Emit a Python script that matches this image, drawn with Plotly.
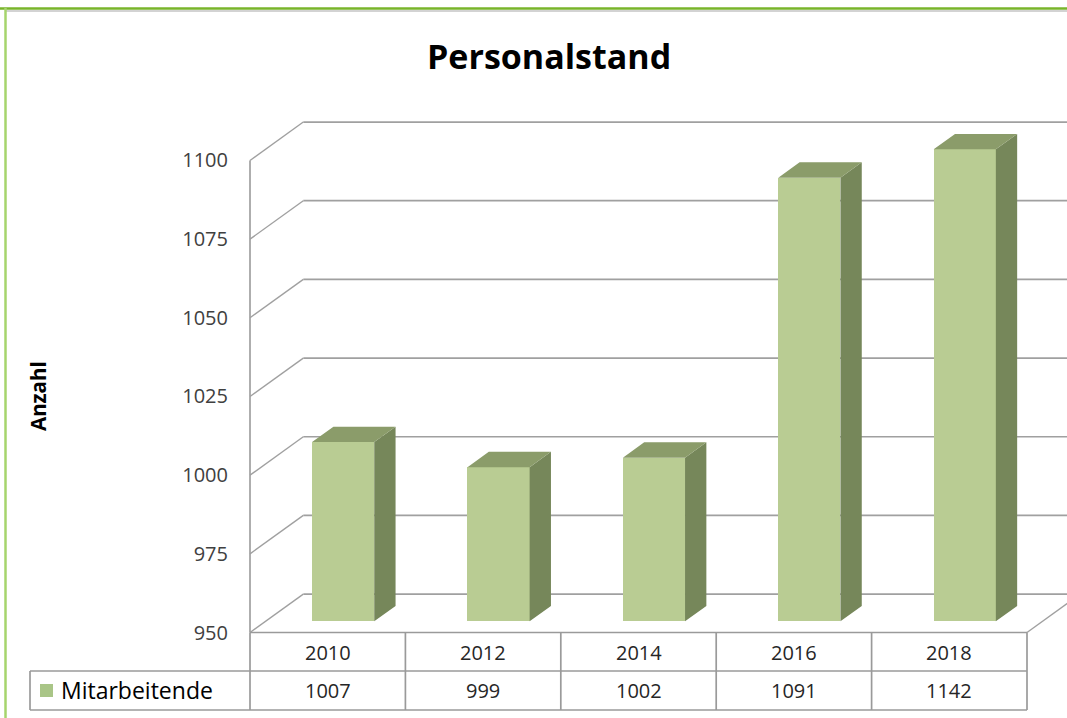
import plotly.graph_objects as go

# ---- data ----
years = ["2010", "2012", "2014", "2016", "2018"]
staff = [1007, 999, 1002, 1091, 1142]
y_ticks = [950, 975, 1000, 1025, 1050, 1075, 1100]
series_name = "Mitarbeitende"
title_text = "Personalstand"
y_title = "Anzahl"

# ---- layout geometry (pixel mapping of the pseudo-3D frame) ----
W, H = 1067, 718
slot_px = 155.4          # width of one category slot in px
x_front_px = 250         # left edge of the front plane
y_base_px = 632.5        # pixel row of the axis minimum
unit_px = 3.147          # px per value unit
ymin, ymax = y_ticks[0], y_ticks[-1]

ddx = 53.3 / slot_px     # depth offset in x units
ddy = 38.4 / unit_px     # depth offset in y units
f_front = 0.29           # depth of bar front face
f_depth = 0.40           # bar depth
bar_w = 0.40

x_lo = -0.5 - x_front_px / slot_px
x_hi = -0.5 + (W - x_front_px) / slot_px
y_lo = ymin - (H - y_base_px) / unit_px
y_hi = ymin + y_base_px / unit_px

def py(px):
    return 1 - px / H

def px_x(px):
    return px / W

FRONT = "#b9cc93"
SIDE = "#76875a"
TOP = "#8b9c6a"
GRID = "#a0a0a0"
FONT = "'Open Sans', Lato, sans-serif"

n = len(years)
xs = list(range(n))
clipped = [min(v, ymax) for v in staff]

fig = go.Figure()

# front faces
fig.add_trace(go.Bar(
    x=[i + f_front * ddx for i in xs],
    y=[c - ymin for c in clipped],
    base=ymin + f_front * ddy,
    width=bar_w,
    marker=dict(color=FRONT, line=dict(width=0)),
    showlegend=False, hoverinfo="skip",
))

# side faces and top faces
sx, sy, tx, ty = [], [], [], []
f1, f2 = f_front, f_front + f_depth
for i, c in zip(xs, clipped):
    xl = i - bar_w / 2
    xr = i + bar_w / 2
    sx += [xr + f1 * ddx, xr + f2 * ddx, xr + f2 * ddx, xr + f1 * ddx, xr + f1 * ddx, None]
    sy += [ymin + f1 * ddy, ymin + f2 * ddy, c + f2 * ddy, c + f1 * ddy, ymin + f1 * ddy, None]
    tx += [xl + f1 * ddx, xl + f2 * ddx, xr + f2 * ddx, xr + f1 * ddx, xl + f1 * ddx, None]
    ty += [c + f1 * ddy, c + f2 * ddy, c + f2 * ddy, c + f1 * ddy, c + f1 * ddy, None]

fig.add_trace(go.Scatter(x=sx, y=sy, mode="lines", fill="toself", fillcolor=SIDE,
                         line=dict(width=0, color=SIDE), showlegend=False, hoverinfo="skip"))
fig.add_trace(go.Scatter(x=tx, y=ty, mode="lines", fill="toself", fillcolor=TOP,
                         line=dict(width=0, color=TOP), showlegend=False, hoverinfo="skip"))

shapes = []
# back wall gridlines + left wall diagonals
for v in y_ticks:
    shapes.append(dict(type="line", xref="x", yref="y", x0=-0.5 + ddx, y0=v + ddy,
                       x1=n - 0.5 + ddx + 1, y1=v + ddy, line=dict(color=GRID, width=1.7), layer="below"))
    shapes.append(dict(type="line", xref="x", yref="y", x0=-0.5, y0=v, x1=-0.5 + ddx, y1=v + ddy,
                       line=dict(color=GRID, width=1.4), layer="below"))
# front vertical axis line
shapes.append(dict(type="line", xref="x", yref="y", x0=-0.5, y0=ymin, x1=-0.5, y1=ymax,
                   line=dict(color=GRID, width=1.7), layer="below"))
# right floor diagonal
shapes.append(dict(type="line", xref="x", yref="y", x0=n - 0.5, y0=ymin, x1=n - 0.5 + ddx, y1=ymin + ddy,
                   line=dict(color=GRID, width=1.4), layer="below"))

# data table
row_top, row_mid, row_bot = 632.5, 671, 710
TL = "#9a9a9a"
shapes.append(dict(type="line", xref="x", yref="paper", x0=-0.5, x1=n - 0.5, y0=py(row_top), y1=py(row_top),
                   line=dict(color=TL, width=1.7)))
for r in (row_mid, row_bot):
    shapes.append(dict(type="line", xref="paper", yref="paper", x0=px_x(30), x1=px_x(x_front_px + n * slot_px),
                       y0=py(r), y1=py(r), line=dict(color=TL, width=1.7)))
for k in range(n + 1):
    shapes.append(dict(type="line", xref="x", yref="paper", x0=k - 0.5, x1=k - 0.5,
                       y0=py(row_top), y1=py(row_bot), line=dict(color=TL, width=1.7)))
shapes.append(dict(type="line", xref="paper", yref="paper", x0=px_x(30), x1=px_x(30),
                   y0=py(row_mid), y1=py(row_bot), line=dict(color=TL, width=1.7)))
# legend key
shapes.append(dict(type="rect", xref="paper", yref="paper", x0=px_x(40), x1=px_x(53),
                   y0=py(697), y1=py(684), fillcolor="#a9c587", line=dict(width=0)))

# page frame (green border)
shapes.append(dict(type="line", xref="paper", yref="paper", x0=0, x1=1, y0=py(8.5), y1=py(8.5),
                   line=dict(color="#78b42a", width=2.5)))
shapes.append(dict(type="line", xref="paper", yref="paper", x0=px_x(5.5), x1=1, y0=py(11), y1=py(11),
                   line=dict(color="#c4c4c4", width=1.5)))
shapes.append(dict(type="line", xref="paper", yref="paper", x0=px_x(5.5), x1=px_x(5.5), y0=py(8), y1=0,
                   line=dict(color="#a6d46c", width=2.5)))

annotations = []
for i, (yr, v) in enumerate(zip(years, staff)):
    annotations.append(dict(x=i, y=py(652), xref="x", yref="paper", text=yr, showarrow=False,
                            xanchor="center", yanchor="middle",
                            font=dict(family=FONT, size=20, color="#262626")))
    annotations.append(dict(x=i, y=py(690), xref="x", yref="paper", text=str(v), showarrow=False,
                            xanchor="center", yanchor="middle",
                            font=dict(family=FONT, size=20, color="#262626")))
annotations.append(dict(x=px_x(59), y=py(690), xref="paper", yref="paper", text=series_name,
                        showarrow=False, xanchor="left", yanchor="middle",
                        font=dict(family=FONT, size=23, color="#000000")))
annotations.append(dict(x=px_x(549), y=py(56), xref="paper", yref="paper", text="<b>" + title_text + "</b>",
                        showarrow=False, xanchor="center", yanchor="middle",
                        font=dict(family=FONT, size=34, color="#000000")))
annotations.append(dict(x=px_x(38), y=py(396), xref="paper", yref="paper", text="<b>" + y_title + "</b>",
                        showarrow=False, textangle=-90, xanchor="center", yanchor="middle",
                        font=dict(family=FONT, size=20.5, color="#000000")))

fig.update_layout(
    width=W, height=H,
    margin=dict(l=0, r=0, t=0, b=0),
    paper_bgcolor="white", plot_bgcolor="white",
    shapes=shapes, annotations=annotations,
    showlegend=False,
    bargap=0,
    xaxis=dict(range=[x_lo, x_hi], showgrid=False, zeroline=False, showticklabels=False,
               showline=False, fixedrange=True),
    yaxis=dict(range=[y_lo, y_hi], showgrid=False, zeroline=False, showline=False,
               anchor="free", position=x_front_px / W,
               tickmode="array", tickvals=y_ticks, ticktext=[str(t) for t in y_ticks],
               ticks="", ticklabelstandoff=22,
               tickfont=dict(family=FONT, size=20, color="#404040"), fixedrange=True),
)

fig.write_html("out.html", config={"displayModeBar": False},
               post_script="document.body.style.margin='0px';")
